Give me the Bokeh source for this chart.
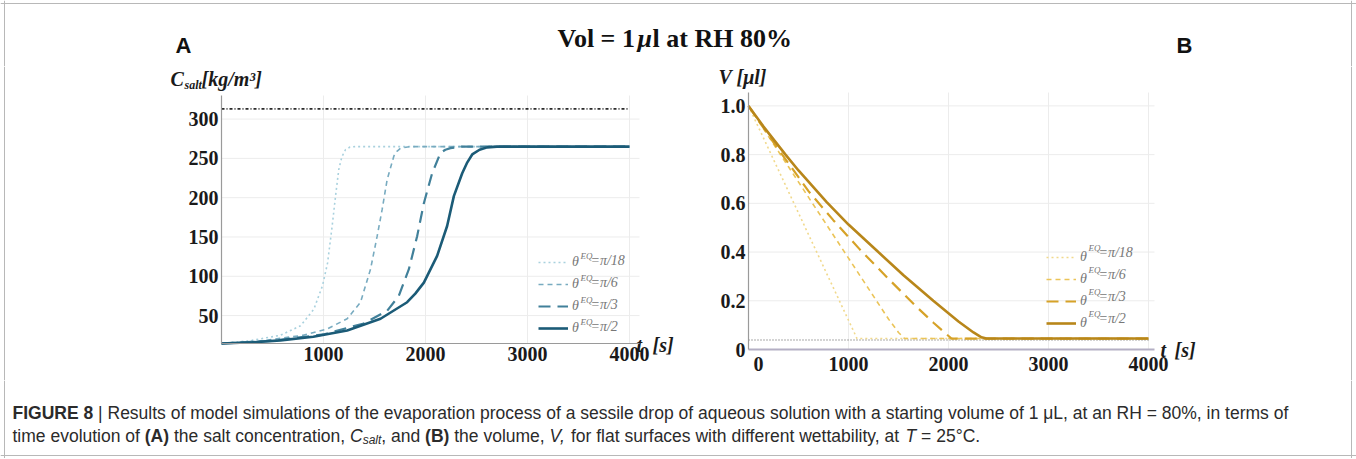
from bokeh.plotting import figure
from bokeh.models import Range1d, FixedTicker, Legend, LegendItem, Span
from bokeh.layouts import column, row
from bokeh.embed import file_html
from bokeh.resources import INLINE
from bokeh.core.properties import value

# ---------------- data ----------------
angle_labels = ["=π/18", "=π/6", "=π/3", "=π/2"]

# Panel A: salt concentration C_salt [kg/m^3] vs time t [s]
tA_pi18 = [0, 300, 578, 775, 905, 990, 1040, 1085, 1118, 1150, 1180, 1215, 1260, 1320, 4000]
cA_pi18 = [14.5, 18.5, 25, 37, 58, 88, 117, 164, 202, 236, 252, 261, 264.5, 265, 265]
tA_pi6 = [0, 400, 800, 1036, 1232, 1363, 1461, 1526, 1575, 1624, 1690, 1720, 1755, 1850, 4000]
cA_pi6 = [14.5, 18, 25, 33, 46, 67, 109, 151, 185, 223, 253, 259, 263, 265, 265]
tA_pi3 = [0, 500, 1000, 1395, 1624, 1738, 1837, 1918, 1984, 2065, 2147, 2195, 2245, 2350, 4000]
cA_pi3 = [14.5, 18, 26, 40, 56, 75, 109, 151, 193, 231, 257, 261, 263, 265, 265]
tA_pi2 = [0, 300, 578, 900, 1232, 1559, 1820, 1900, 1984, 2114, 2212, 2278, 2360, 2410, 2458,
          2530, 2605, 2700, 4000]
cA_pi2 = [14.5, 16, 18.5, 23, 31, 46, 67, 78, 92, 126, 164, 202, 231, 245, 255, 261, 264, 265, 265]
satA_t = [0, 4000]
satA_c = [313, 313]

# Panel B: volume V [μl] vs time t [s]
tB_pi18 = [0, 300, 600, 900, 1000, 1085, 4000]
vB_pi18 = [1.0, 0.736, 0.472, 0.208, 0.12, 0.045, 0.045]
tB_pi6 = [0, 400, 800, 1200, 1400, 1500, 1560, 4000]
vB_pi6 = [1.0, 0.75, 0.5, 0.25, 0.125, 0.07, 0.045, 0.045]
tB_pi3 = [0, 250, 600, 850, 1115, 1400, 1680, 1850, 1960, 2030, 4000]
vB_pi3 = [1.0, 0.85, 0.65, 0.53, 0.41, 0.29, 0.175, 0.11, 0.07, 0.045, 0.045]
tB_pi2 = [0, 150, 370, 500, 782, 1000, 1298, 1550, 1848, 2100, 2250, 2330, 2380, 4000]
vB_pi2 = [1.0, 0.915, 0.8, 0.735, 0.605, 0.513, 0.4, 0.305, 0.2, 0.115, 0.07, 0.05, 0.045, 0.045]
floorB_t = [0, 4000]
floorB_v = [0.039, 0.039]

xticksA = [1000, 2000, 3000, 4000]
yticksA = [50, 100, 150, 200, 250, 300]
xticksB = [0, 1000, 2000, 3000, 4000]
xtick_labelsB = ["\u00a0\u00a0\u00a0\u00a00", "1000", "2000", "3000", "4000"]
yticksB = [0, 0.2, 0.4, 0.6, 0.8, 1.0]
ytick_labelsB = ["0", "0.2", "0.4", "0.6", "0.8", "1.0"]

SERIF = "Liberation Serif"
SANS = "Liberation Sans"
GRID = "#ececec"
BORDER = "#b8b8b8"

# page layout (drawn from the page's top-left corner)
W, HDR_H, ROW_H, CAP_H = 1356, 66, 314, 78
ROW_TOP = HDR_H
ROW_BOT = ROW_TOP + ROW_H
SPLIT = 700


def style_axes(p):
    for ax in (p.xaxis[0], p.yaxis[0]):
        ax.axis_line_color = "#9a9a9a"
        ax.axis_line_width = 1.2
        ax.major_tick_in = 0
        ax.major_tick_out = 0
        ax.minor_tick_line_color = None
        ax.major_label_text_font = SERIF
        ax.major_label_text_font_style = "bold"
        ax.major_label_text_font_size = "20px"
        ax.major_label_text_color = "#1a1a1a"
        ax.major_label_standoff = 3
    p.grid.visible = False
    p.outline_line_color = None
    p.background_fill_color = "white"
    p.border_fill_color = "white"


def border_span(p, loc, dim):
    p.add_layout(Span(location=loc, dimension=dim, line_color=BORDER, line_width=1))


def put_text(p, x, y, s, font, size, style="normal", align="left", color="#111"):
    p.text(x=[x], y=[y], text=[s], text_font=value(font), text_font_size=size,
           text_font_style=style, text_align=align, text_baseline="middle", text_color=color)


# ---------------- header ----------------
hdr = figure(width=W, height=HDR_H, x_range=Range1d(0, W), y_range=Range1d(HDR_H, 0),
             output_backend="svg", toolbar_location=None, title=None,
             x_axis_location=None, y_axis_location=None, min_border=0)
hdr.grid.visible = False
hdr.outline_line_color = None
border_span(hdr, 3, "width")
border_span(hdr, 4, "height")
border_span(hdr, 1351, "height")

put_text(hdr, 183, 45, "A", SANS, "22px", "bold", "center")
put_text(hdr, 1184, 45, "B", SANS, "22px", "bold", "center")
put_text(hdr, 557, 38, "Vol = 1", SERIF, "26px", "bold")
put_text(hdr, 637, 38, "μ", SERIF, "26px", "bold italic")
put_text(hdr, 652, 38, "l at RH 80%", SERIF, "26px", "bold")

# ---------------- panel A ----------------
A_X0, A_SX = 221, 0.102          # page x of t=0, px per second
A_Y0, A_SY = 343, 248 / 315.5    # page y of C=14.5, px per kg/m3


def tA(px):
    return (px - A_X0) / A_SX


def cA(py):
    return 14.5 + (A_Y0 - py) / A_SY


pA = figure(width=SPLIT, height=ROW_H,
            x_range=Range1d(tA(0), tA(SPLIT)), y_range=Range1d(cA(ROW_BOT), cA(ROW_TOP)),
            output_backend="svg", toolbar_location=None, title=None, min_border=0)
style_axes(pA)
pA.xaxis[0].fixed_location = cA(A_Y0)
pA.yaxis[0].fixed_location = 0
pA.xaxis[0].ticker = FixedTicker(ticks=xticksA)
pA.yaxis[0].ticker = FixedTicker(ticks=yticksA)
pA.xaxis[0].bounds = (0, tA(639))
pA.yaxis[0].bounds = (cA(A_Y0), cA(95))
border_span(pA, tA(4), "height")

pA.segment(x0=xticksA, y0=[cA(A_Y0)] * len(xticksA), x1=xticksA, y1=[cA(95)] * len(xticksA),
           line_color=GRID, line_width=1, level="underlay")
pA.segment(x0=[0] * len(yticksA), y0=yticksA, x1=[tA(639)] * len(yticksA), y1=yticksA,
           line_color=GRID, line_width=1, level="underlay")

pA.line(satA_t, satA_c, line_color="#2a2a2a", line_width=1.6, line_dash="3 2 1 2")
colsA = ["#a9d1de", "#78abc0", "#41809a", "#1b5b77"]
dashes = ["2 3", "5 4", "12 7", "solid"]
widths = [1.6, 1.6, 2.2, 2.6]
rendsA = []
for (tt, cc), col, dsh, lw in zip([(tA_pi18, cA_pi18), (tA_pi6, cA_pi6), (tA_pi3, cA_pi3), (tA_pi2, cA_pi2)],
                                  colsA, dashes, widths):
    rendsA.append(pA.line(tt, cc, line_color=col, line_dash=dsh, line_width=lw))


def make_legend(rends, loc):
    return Legend(items=[LegendItem(label=value("θ"), renderers=[r]) for r in rends],
                  location=loc, padding=2, margin=0, spacing=6, glyph_width=30, glyph_height=16,
                  label_height=16, label_standoff=4, label_text_font=SERIF,
                  label_text_font_style="italic", label_text_font_size="14px",
                  label_text_color="#777777", background_fill_alpha=0, border_line_color=None)


pA.add_layout(make_legend(rendsA, (538, ROW_BOT - 336)))
rowsA = [260, 282, 304, 326]
for ry, lab in zip(rowsA, angle_labels):
    put_text(pA, tA(580), cA(ry - 5), "EQ", SERIF, "9px", "italic", color="#777777")
    put_text(pA, tA(590), cA(ry), lab, SERIF, "14px", "italic", color="#777777")

# axis titles of panel A
put_text(pA, tA(170), cA(78), "C", SERIF, "20px", "bold italic", color="#1a1a1a")
put_text(pA, tA(184), cA(84), "salt", SERIF, "12px", "bold italic", color="#1a1a1a")
put_text(pA, tA(201), cA(78), "[kg/m³]", SERIF, "20px", "bold italic", color="#1a1a1a")
put_text(pA, tA(636), cA(344), "t", SERIF, "20px", "bold italic", color="#1a1a1a")
put_text(pA, tA(652), cA(344), "[s]", SERIF, "20px", "bold italic", color="#1a1a1a")

# ---------------- panel B ----------------
B_X0, B_SX = 748, 0.1
B_Y0, B_SY = 349, 243.6


def tB(px):
    return (px - B_X0) / B_SX


def vB(py):
    return (B_Y0 - py) / B_SY


pB = figure(width=W - SPLIT, height=ROW_H,
            x_range=Range1d(tB(SPLIT), tB(W)), y_range=Range1d(vB(ROW_BOT), vB(ROW_TOP)),
            output_backend="svg", toolbar_location=None, title=None, min_border=0)
style_axes(pB)
pB.xaxis[0].fixed_location = 0
pB.yaxis[0].fixed_location = 0
pB.xaxis[0].ticker = FixedTicker(ticks=xticksB)
pB.yaxis[0].ticker = FixedTicker(ticks=yticksB)
pB.xaxis[0].major_label_overrides = {t: l for t, l in zip(xticksB, xtick_labelsB)}
pB.yaxis[0].major_label_overrides = {t: l for t, l in zip(yticksB, ytick_labelsB)}
pB.xaxis[0].bounds = (0, tB(1154))
pB.yaxis[0].bounds = (0, vB(92))
pB.xaxis[0].axis_line_color = "#b4afc4"
pB.xaxis[0].axis_line_width = 2
border_span(pB, tB(1351), "height")

pB.segment(x0=xticksB[1:], y0=[0] * (len(xticksB) - 1), x1=xticksB[1:], y1=[vB(92)] * (len(xticksB) - 1),
           line_color=GRID, line_width=1, level="underlay")
pB.segment(x0=[0] * (len(yticksB) - 1), y0=yticksB[1:], x1=[tB(1154)] * (len(yticksB) - 1), y1=yticksB[1:],
           line_color=GRID, line_width=1, level="underlay")

pB.line(floorB_t, floorB_v, line_color="#555555", line_width=1.2, line_dash="1 2")
colsB = ["#f1d98c", "#ebc458", "#d6a228", "#b8861a"]
rendsB = []
for (tt, vv), col, dsh, lw in zip([(tB_pi18, vB_pi18), (tB_pi6, vB_pi6), (tB_pi3, vB_pi3), (tB_pi2, vB_pi2)],
                                  colsB, dashes, widths):
    rendsB.append(pB.line(tt, vv, line_color=col, line_dash=dsh, line_width=lw))

pB.add_layout(make_legend(rendsB, (1046 - SPLIT, ROW_BOT - 331)))
rowsB = [252, 274, 296, 318]
for ry, lab in zip(rowsB, angle_labels):
    put_text(pB, tB(1088), vB(ry - 5), "EQ", SERIF, "9px", "italic", color="#777777")
    put_text(pB, tB(1098), vB(ry), lab, SERIF, "14px", "italic", color="#777777")

put_text(pB, tB(718), vB(76), "V [μl]", SERIF, "20px", "bold italic", color="#1a1a1a")
put_text(pB, tB(1160), vB(349), "t", SERIF, "20px", "bold italic", color="#1a1a1a")
put_text(pB, tB(1174), vB(349), "[s]", SERIF, "20px", "bold italic", color="#1a1a1a")

# ---------------- caption ----------------
cap = figure(width=W, height=CAP_H, x_range=Range1d(0, W), y_range=Range1d(CAP_H, 0),
             output_backend="svg", toolbar_location=None, title=None,
             x_axis_location=None, y_axis_location=None, min_border=0)
cap.grid.visible = False
cap.outline_line_color = None
border_span(cap, 4, "height")
border_span(cap, 1351, "height")
border_span(cap, 455 - ROW_BOT, "width")

AW = dict(zip(" abcdefghijklmnopqrstuvwxyz",
              [278, 556, 556, 500, 556, 556, 278, 556, 556, 222, 222, 500, 222, 833, 556, 556, 556,
               556, 333, 500, 278, 556, 500, 722, 500, 500, 500]))
AW.update({",": 278, ".": 278, "(": 333, ")": 333, "=": 584, "%": 889, "°": 400, "|": 260,
           "μ": 576, "A": 667, "B": 667, "C": 722, "F": 611, "G": 778, "H": 722, "I": 278,
           "L": 556, "R": 722, "T": 611, "U": 722, "V": 667, "E": 667})
for d in "0123456789":
    AW[d] = 556
AWB = dict(AW)
AWB.update({"A": 722, "B": 722, "(": 333, ")": 333})

CAP_SIZE = 17.5


def tw(s, size, bold=False):
    tbl = AWB if bold else AW
    return sum(tbl.get(ch, 556) for ch in s) * size / 1000.0


def cap_line(segs, x0, mid):
    x = x0
    for s, style, size, dy in segs:
        lead = len(s) - len(s.lstrip(" "))
        bold = "bold" in style
        put_text(cap, x + tw(" " * lead, size), mid + dy, s.strip(), SANS, f"{size}px", style,
                 color="#2b2b2b")
        x += tw(s, size, bold)


cap_line([("FIGURE 8", "bold", CAP_SIZE, 0), (" | ", "normal", CAP_SIZE, 0),
          ("Results of model simulations of the evaporation process of a sessile drop of aqueous "
           "solution with a starting volume of 1 μL, at an RH = 80%, in terms of", "normal", CAP_SIZE, 0)],
         12, 412 - ROW_BOT)
cap_line([("time evolution of ", "normal", CAP_SIZE, 0), ("(A)", "bold", CAP_SIZE, 0),
          (" the salt concentration, ", "normal", CAP_SIZE, 0), ("C", "italic", CAP_SIZE, 0),
          ("salt", "italic", 12, 4), (", and ", "normal", CAP_SIZE, 0), ("(B)", "bold", CAP_SIZE, 0),
          (" the volume, ", "normal", CAP_SIZE, 0), ("V,", "italic", CAP_SIZE, 0),
          (" for flat surfaces with different wettability, at ", "normal", CAP_SIZE, 0),
          ("T", "italic", CAP_SIZE, 0), (" = 25°C.", "normal", CAP_SIZE, 0)],
         12, 435 - ROW_BOT)

layout = column(hdr, row(pA, pB), cap)

open("out.html", "w").write(file_html(layout, INLINE))
